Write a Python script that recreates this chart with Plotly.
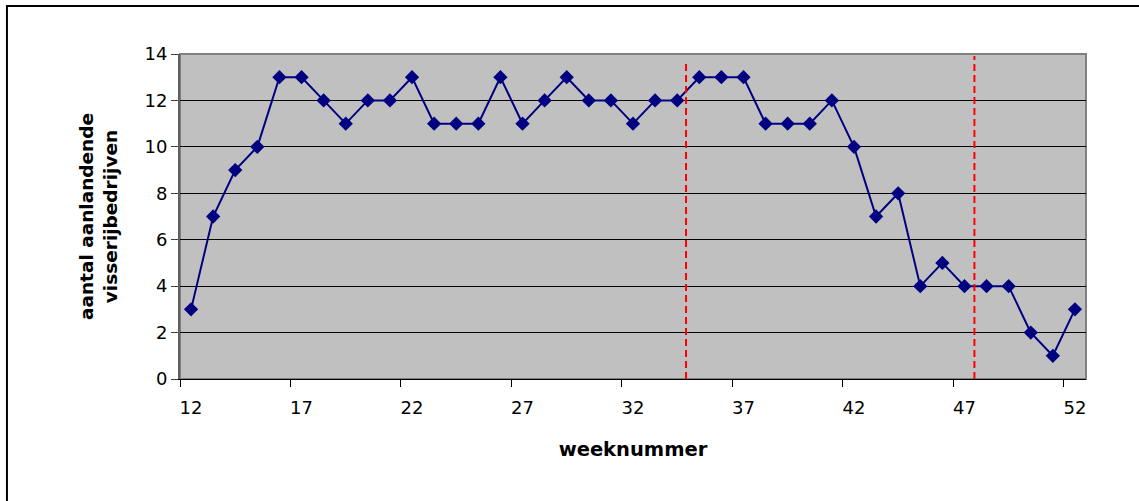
import plotly.graph_objects as go

weeks = list(range(12, 53))
values = [3, 7, 9, 10, 13, 13, 12, 11, 12, 12, 13, 11, 11, 11, 13, 11, 12, 13, 12, 12,
          11, 12, 12, 13, 13, 13, 11, 11, 11, 12, 10, 7, 8, 4, 5, 4, 4, 4, 2, 1, 3]
xtick_vals = [12, 17, 22, 27, 32, 37, 42, 47, 52]
xtick_text = [str(v) for v in xtick_vals]
ytick_vals = [0, 2, 4, 6, 8, 10, 12, 14]
marker_weeks = [34.4, 47.45]

FONT = "DejaVu Sans, Liberation Sans, Arial, sans-serif"

fig = go.Figure()
fig.add_trace(go.Scatter(
    x=weeks, y=values, mode="lines+markers",
    line=dict(color="#000080", width=2),
    marker=dict(symbol="diamond", size=11, color="#000080"),
    showlegend=False, cliponaxis=False,
))

shapes = []
tops = [0.978, 0.994]
for w, t in zip(marker_weeks, tops):
    shapes.append(dict(type="line", xref="x", yref="y domain", x0=w, x1=w, y0=0, y1=t,
                       line=dict(color="#FF0000", width=2, dash="7px,4px"), layer="above"))
# plot area border
shapes.append(dict(type="rect", xref="x domain", yref="y domain", x0=0, x1=1, y0=0, y1=1,
                   line=dict(color="#808080", width=2), fillcolor="rgba(0,0,0,0)", layer="below"))
# outer chart border (cropped by the picture edge)
shapes.append(dict(type="rect", xref="paper", yref="paper", x0=-0.1910, x1=1.2, y0=-0.6, y1=1.1477,
                   line=dict(color="#000000", width=2), fillcolor="rgba(0,0,0,0)"))

fig.update_layout(
    width=1139, height=501,
    margin=dict(l=180, r=53, t=54, b=122),
    paper_bgcolor="white", plot_bgcolor="#C0C0C0",
    font=dict(family=FONT, color="black", size=18),
    shapes=shapes,
    xaxis=dict(
        range=[11.5, 52.5], tickvals=xtick_vals, ticktext=xtick_text,
        ticks="", ticklabelstandoff=12, showgrid=False, zeroline=False,
        showline=True, linecolor="#000000", linewidth=1,
        minor=dict(tick0=11.5, dtick=5, ticks="outside", ticklen=7, tickcolor="#000000", showgrid=False),
        title=dict(text="<b>weeknummer</b>", font=dict(size=19.5), standoff=25),
        tickfont=dict(size=18),
    ),
    yaxis=dict(
        range=[0, 14], tickvals=ytick_vals, ticks="outside", ticklen=7, tickcolor="#404040",
        showgrid=True, gridcolor="#000000", gridwidth=1, zeroline=False,
        showline=True, linecolor="#606060", linewidth=2,
        title=dict(text="<b>aantal aanlandende<br>visserijbedrijven</b>", font=dict(size=18.5), standoff=22),
        tickfont=dict(size=18),
    ),
)

fig.write_html("out.html", config={"displayModeBar": False},
               post_script="document.body.style.margin='0px';")
